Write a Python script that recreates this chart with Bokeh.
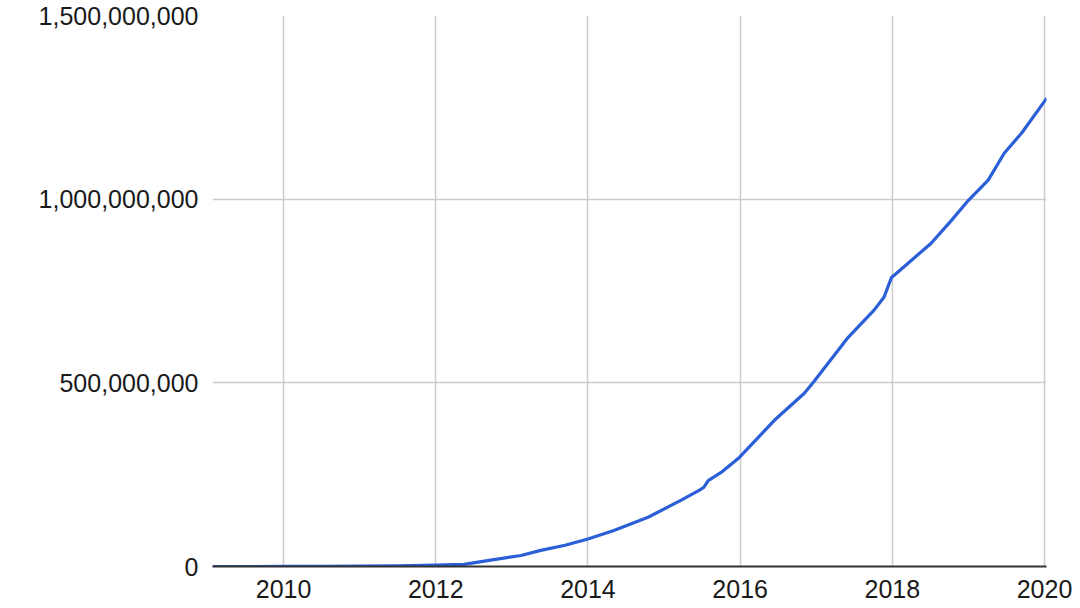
from bokeh.plotting import figure
from bokeh.models import FixedTicker, NumeralTickFormatter, Range1d, CustomJSTickFormatter
from bokeh.embed import file_html
from bokeh.resources import INLINE

# Year (fractional) and cumulative value (millions)
years = [2009.07, 2010.0, 2010.5, 2011.0, 2011.5, 2012.0, 2012.37, 2012.68, 2013.12, 2013.38,
         2013.7, 2014.0, 2014.34, 2014.79, 2015.22, 2015.46, 2015.52, 2015.58, 2015.75, 2015.99,
         2016.45, 2016.84, 2016.96, 2017.42, 2017.76, 2017.89, 2017.99, 2018.12, 2018.51, 2018.78,
         2019.0, 2019.26, 2019.47, 2019.70, 2020.03]
values_m = [0, 0.1, 0.3, 0.8, 1.8, 3.5, 6, 16, 30, 44,
            58, 75, 98, 134, 180, 207, 215, 234, 256, 297,
            398, 471, 501, 624, 698, 733, 787, 810, 880, 943,
            997, 1052, 1125, 1180, 1275]
values = [v * 1e6 for v in values_m]

x_ticks = [2010, 2012, 2014, 2016, 2018, 2020]
y_ticks = [0, 500_000_000, 1_000_000_000, 1_500_000_000]

p = figure(width=1072, height=608, output_backend="svg", toolbar_location=None,
           x_range=Range1d(2009.066, 2020.026), y_range=Range1d(0, 1.5e9),
           min_border_left=212, min_border_right=26, min_border_top=15, min_border_bottom=42)
p.outline_line_color = None
p.background_fill_color = "white"

p.line(years, values, line_color="#2b5fd8", line_width=3.2, line_join="round")

font = "Liberation Sans"
p.xaxis.ticker = FixedTicker(ticks=x_ticks)
p.xaxis.formatter = CustomJSTickFormatter(code="return tick.toFixed(0);")
p.yaxis.ticker = FixedTicker(ticks=y_ticks)
p.yaxis.formatter = NumeralTickFormatter(format="0,0")

for ax in (p.xaxis[0], p.yaxis[0]):
    ax.major_label_text_font = font
    ax.major_label_text_font_size = "25px"
    ax.major_label_text_color = "#1a1a1a"
    ax.major_tick_line_color = None
    ax.minor_tick_line_color = None
    ax.major_tick_out = 0
    ax.major_tick_in = 0

p.xaxis.axis_line_color = "#333333"
p.xaxis.axis_line_width = 2
p.xaxis.major_label_standoff = 13
p.yaxis.axis_line_color = None
p.yaxis.major_label_standoff = 14

p.xgrid.ticker = FixedTicker(ticks=x_ticks)
p.ygrid.ticker = FixedTicker(ticks=y_ticks)
p.grid.grid_line_color = "#cccccc"
p.grid.grid_line_width = 1.5

open("out.html", "w").write(file_html(p, INLINE))
